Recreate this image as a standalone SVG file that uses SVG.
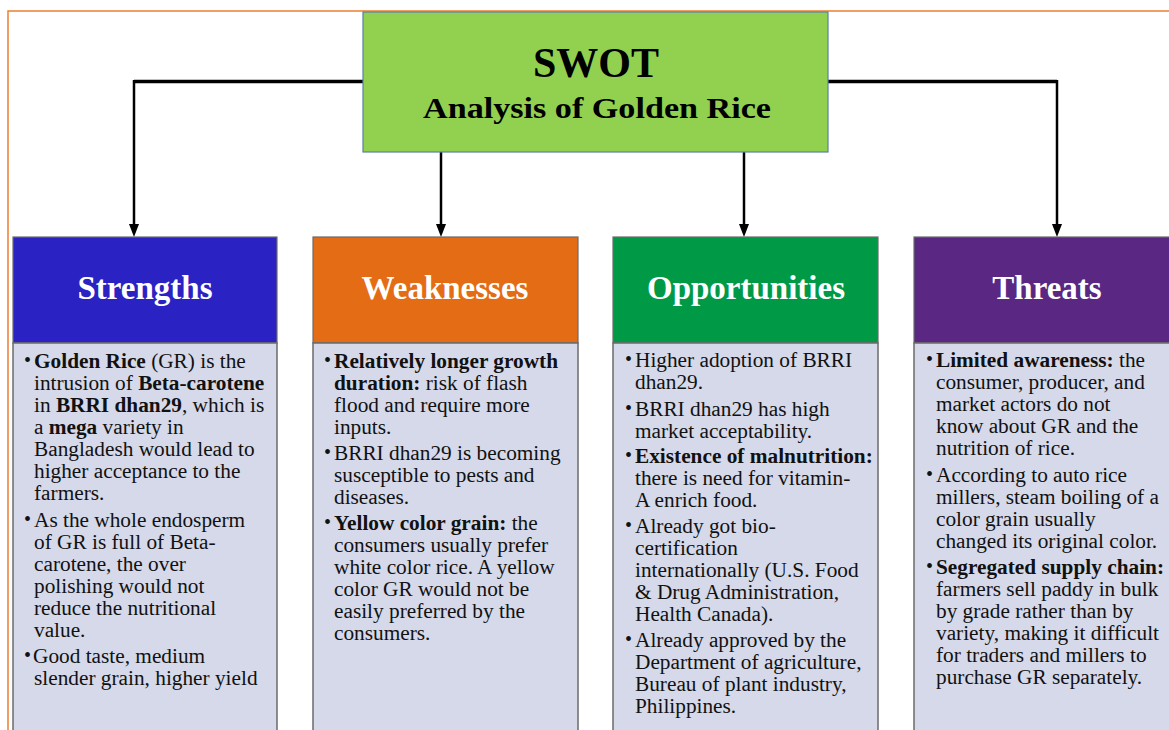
<svg xmlns="http://www.w3.org/2000/svg" width="1169" height="730" viewBox="0 0 1169 730">
<style>
.frame{fill:none;stroke:#ED7D31;stroke-width:1.5}
.conn{fill:none;stroke:#000;stroke-width:2.5}
.connh{fill:none;stroke:#000;stroke-width:3.5}
.hdr{stroke:#6b6b6b;stroke-width:1.2}
.body{fill:#D5D9EA;stroke:#6b6b6b;stroke-width:1.5}
.ht{font-family:"Liberation Serif",serif;font-weight:bold;font-size:33px;fill:#fff;text-anchor:middle}
.tt{font-family:"Liberation Serif",serif;font-weight:bold;fill:#000;text-anchor:middle}
.t{font-family:"Liberation Serif",serif;font-size:21.3px;fill:#111}
.bu{font-family:"Liberation Serif",serif;font-size:20px;fill:#111}
.b{font-weight:bold}
</style>
<rect width="1169" height="730" fill="#fff"/>
<path class="frame" d="M8,730 L8,11 L1169,11"/>

<g id="connectors">
<path class="connh" d="M363,81.5 L134,81.5"/>
<path class="connh" d="M828,81.5 L1057,81.5"/>
<path d="M134,80 L134,225" class="conn"/>
<path d="M1057,80 L1057,225" class="conn"/>
<path d="M441,152 L441,225" class="conn"/>
<path d="M744,152 L744,225" class="conn"/>
<path d="M129,224 L139,224 L134,237 Z" fill="#000"/>
<path d="M1052,224 L1062,224 L1057,237 Z" fill="#000"/>
<path d="M436,224 L446,224 L441,237 Z" fill="#000"/>
<path d="M739,224 L749,224 L744,237 Z" fill="#000"/>
</g>

<g id="title">
<rect x="363" y="12" width="465" height="140" fill="#92D050" stroke="#5B7FA6" stroke-width="1.2"/>
<text class="tt" x="596" y="77" font-size="42">SWOT</text>
<text class="tt" x="597" y="118" font-size="30" textLength="348" lengthAdjust="spacingAndGlyphs">Analysis of Golden Rice</text>
</g>

<g id="strengths">
<rect class="hdr" x="13" y="237" width="264" height="106" fill="#2B22C3"/>
<text class="ht" x="145" y="299">Strengths</text>
<rect class="body" x="13" y="343" width="264" height="400"/>
<text class="bu" x="24" y="367">•</text>
<text class="t" x="34" y="368"><tspan class="b">Golden Rice</tspan> (GR) is the</text>
<text class="t" x="34" y="390">intrusion of <tspan class="b">Beta-carotene</tspan></text>
<text class="t" x="34" y="412">in <tspan class="b">BRRI dhan29</tspan>, which is</text>
<text class="t" x="34" y="434">a <tspan class="b">mega</tspan> variety in</text>
<text class="t" x="34" y="456">Bangladesh would lead to</text>
<text class="t" x="34" y="478">higher acceptance to the</text>
<text class="t" x="34" y="500">farmers.</text>
<text class="bu" x="24" y="526">•</text>
<text class="t" x="34" y="527">As the whole endosperm</text>
<text class="t" x="34" y="549">of GR is full of Beta-</text>
<text class="t" x="34" y="571">carotene, the over</text>
<text class="t" x="34" y="593">polishing would not</text>
<text class="t" x="34" y="615">reduce the nutritional</text>
<text class="t" x="34" y="637">value.</text>
<text class="bu" x="24" y="662">•</text>
<text class="t" x="33" y="663">Good taste, medium</text>
<text class="t" x="34" y="685">slender grain, higher yield</text>
</g>

<g id="weaknesses">
<rect class="hdr" x="313" y="237" width="265" height="106" fill="#E36C14"/>
<text class="ht" x="445" y="299">Weaknesses</text>
<rect class="body" x="313" y="343" width="265" height="400"/>
<text class="bu" x="324" y="367">•</text>
<text class="t b" x="334" y="368">Relatively longer growth</text>
<text class="t" x="334" y="390"><tspan class="b">duration:</tspan> risk of flash</text>
<text class="t" x="334" y="412">flood and require more</text>
<text class="t" x="334" y="434">inputs.</text>
<text class="bu" x="324" y="459">•</text>
<text class="t" x="334" y="460">BRRI dhan29 is becoming</text>
<text class="t" x="334" y="482">susceptible to pests and</text>
<text class="t" x="334" y="504">diseases.</text>
<text class="bu" x="324" y="529">•</text>
<text class="t" x="334" y="530"><tspan class="b">Yellow color grain:</tspan> the</text>
<text class="t" x="334" y="552">consumers usually prefer</text>
<text class="t" x="334" y="574">white color rice. A yellow</text>
<text class="t" x="334" y="596">color GR would not be</text>
<text class="t" x="334" y="618">easily preferred by the</text>
<text class="t" x="334" y="640">consumers.</text>
</g>

<g id="opportunities">
<rect class="hdr" x="613" y="237" width="265" height="106" fill="#009A46"/>
<text class="ht" x="746" y="299">Opportunities</text>
<rect class="body" x="613" y="343" width="265" height="400"/>
<text class="bu" x="625" y="366">•</text>
<text class="t" x="635" y="367">Higher adoption of BRRI</text>
<text class="t" x="635" y="389">dhan29.</text>
<text class="bu" x="625" y="415">•</text>
<text class="t" x="635" y="416">BRRI dhan29 has high</text>
<text class="t" x="635" y="438">market acceptability.</text>
<text class="bu" x="625" y="462">•</text>
<text class="t b" x="635" y="463">Existence of malnutrition:</text>
<text class="t" x="635" y="485">there is need for vitamin-</text>
<text class="t" x="635" y="507">A enrich food.</text>
<text class="bu" x="625" y="532">•</text>
<text class="t" x="635" y="533">Already got bio-</text>
<text class="t" x="635" y="555">certification</text>
<text class="t" x="635" y="577">internationally (U.S. Food</text>
<text class="t" x="635" y="599">&amp; Drug Administration,</text>
<text class="t" x="635" y="621">Health Canada).</text>
<text class="bu" x="625" y="646">•</text>
<text class="t" x="635" y="647">Already approved by the</text>
<text class="t" x="635" y="669">Department of agriculture,</text>
<text class="t" x="635" y="691">Bureau of plant industry,</text>
<text class="t" x="635" y="713">Philippines.</text>
</g>

<g id="threats">
<rect class="hdr" x="914" y="237" width="265" height="106" fill="#5A2782"/>
<text class="ht" x="1047" y="299">Threats</text>
<rect class="body" x="914" y="343" width="265" height="400"/>
<text class="bu" x="926" y="366">•</text>
<text class="t" x="936" y="367"><tspan class="b">Limited awareness:</tspan> the</text>
<text class="t" x="936" y="389">consumer, producer, and</text>
<text class="t" x="936" y="411">market actors do not</text>
<text class="t" x="936" y="433">know about GR and the</text>
<text class="t" x="936" y="455">nutrition of rice.</text>
<text class="bu" x="926" y="481">•</text>
<text class="t" x="936" y="482">According to auto rice</text>
<text class="t" x="936" y="504">millers, steam boiling of a</text>
<text class="t" x="936" y="526">color grain usually</text>
<text class="t" x="936" y="548">changed its original color.</text>
<text class="bu" x="926" y="573">•</text>
<text class="t" x="936" y="574"><tspan class="b">Segregated supply chain:</tspan></text>
<text class="t" x="936" y="596">farmers sell paddy in bulk</text>
<text class="t" x="936" y="618">by grade rather than by</text>
<text class="t" x="936" y="640">variety, making it difficult</text>
<text class="t" x="936" y="662">for traders and millers to</text>
<text class="t" x="936" y="684">purchase GR separately.</text>
</g>
</svg>
